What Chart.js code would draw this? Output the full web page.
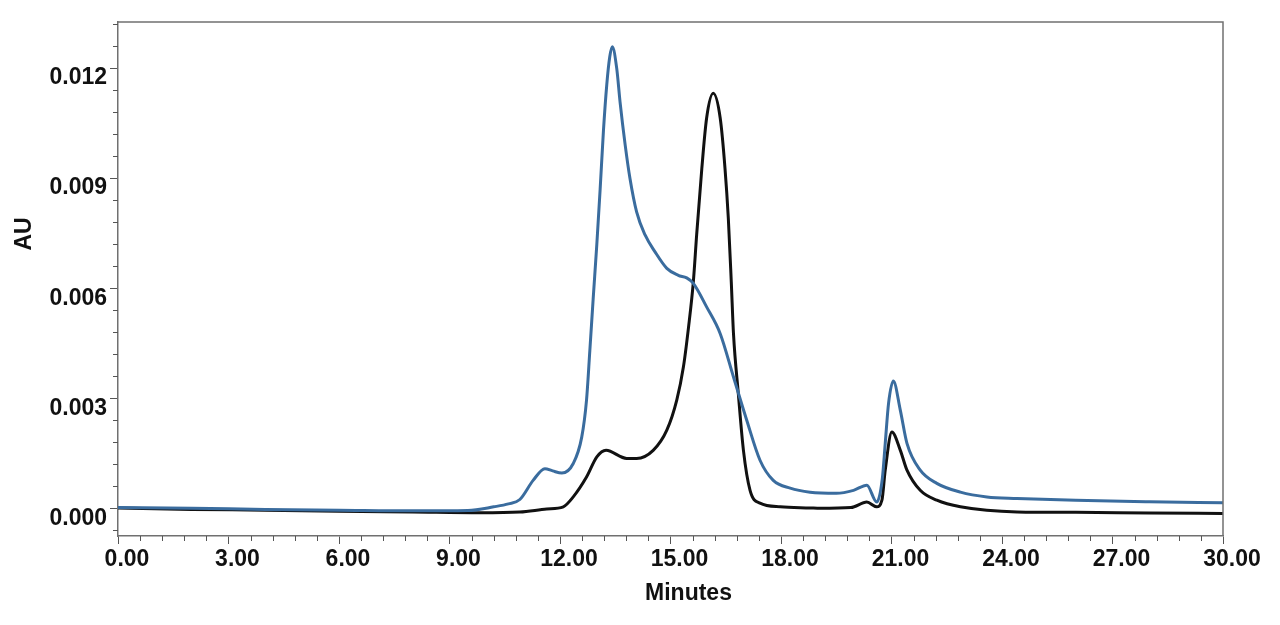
<!DOCTYPE html>
<html lang="en">

<head>
  <meta charset="UTF-8" />
  <title>Chromatogram</title>
  <script src="https://cdn.jsdelivr.net/npm/chart.js"></script>
  <style>
    body {
      margin: 0;
      background: #fff;
    }

    #wrap {
      width: 1280px;
      height: 625px;
    }
  </style>
</head>

<body>
  <div id="wrap"><canvas id="chart"></canvas></div>

  <script>
    // retention time (min) / absorbance (AU)
    const blueTime = [0, 2, 4, 6, 8, 9.5, 10.2, 10.6, 10.91, 11.27, 11.59, 11.8, 12.05, 12.36, 12.59, 12.72, 12.81,
      12.9, 13.0, 13.09, 13.18, 13.27, 13.35, 13.42, 13.54, 13.63, 13.77, 13.9, 14.08, 14.31, 14.58, 14.9, 15.21,
      15.44, 15.62, 15.98, 16.35, 16.71, 17.07, 17.43, 17.79, 18.25, 18.79, 19.5, 19.97, 20.33, 20.6, 20.75, 20.83,
      20.92, 21.05, 21.24, 21.42, 21.78, 22.23, 22.87, 23.59, 24.41, 26, 28, 30];
    const blueAU = [0.00002, 0.0, -0.00003, -0.00005, -0.00007, -0.00006, 0.00004, 0.00012, 0.00024, 0.00076, 0.00108,
      0.00102, 0.00096, 0.00122, 0.00194, 0.00295, 0.0043, 0.0057, 0.0072, 0.0087, 0.0103, 0.01155, 0.0123, 0.01258,
      0.01199, 0.01108, 0.0099, 0.00899, 0.00808, 0.00745, 0.00699, 0.00654, 0.00635, 0.00628, 0.00613, 0.00549,
      0.00476, 0.00358, 0.0024, 0.00131, 0.00076, 0.00055, 0.00044, 0.00041, 0.00049, 0.00063, 0.00017, 0.0008,
      0.00177, 0.00286, 0.00347, 0.00267, 0.00177, 0.00104, 0.00068, 0.00044, 0.00031, 0.00027, 0.00022, 0.00018,
      0.00015];

    const blackTime = [0, 2, 4, 6, 8, 9.83, 10.91, 11.64, 12.09, 12.36, 12.72, 13.0, 13.25, 13.81, 14.08, 14.53, 14.9,
      15.17, 15.35, 15.49, 15.62, 15.71, 15.85, 15.98, 16.16, 16.35, 16.48, 16.57, 16.65, 16.71, 16.84, 16.98, 17.16,
      17.43, 17.98, 18.79, 19.06, 19.9, 20.33, 20.6, 20.74, 20.83, 21.01, 21.24, 21.42, 21.78, 22.23, 22.87, 24.41,
      26, 28, 30];
    const blackAU = [0.00001, -0.00003, -0.00005, -0.00008, -0.0001, -0.00012, -0.0001, -0.00002, 0.00004, 0.00031,
      0.00085, 0.0014, 0.00158, 0.00136, 0.00136, 0.00158, 0.00213, 0.00295, 0.00385, 0.00494, 0.00617, 0.00745,
      0.00926, 0.01063, 0.01131, 0.01063, 0.00926, 0.0079, 0.00617, 0.00476, 0.00314, 0.00158, 0.00049, 0.00014,
      0.00004, 0.00001, 0.0, 0.00002, 0.00017, 0.00004, 0.00022, 0.00104, 0.00208, 0.00158, 0.00104, 0.00049,
      0.00022, 0.00004, -0.0001, -0.00011, -0.00013, -0.00014];

    const xTicks = [0, 3, 6, 9, 12, 15, 18, 21, 24, 27, 30];
    const yTicks = [0, 0.003, 0.006, 0.009, 0.012];

    const FONT = { family: "'Liberation Sans', Arial, sans-serif", size: 23, weight: 'bold' };
    const AXIS_GREY = '#707070';

    // frame, minor ticks and axis titles
    const decorations = {
      id: 'decorations',
      afterDraw(chart) {
        const { ctx, chartArea: a, scales: { x, y } } = chart;
        ctx.save();
        ctx.strokeStyle = AXIS_GREY;
        ctx.lineWidth = 1.5;
        ctx.beginPath();
        ctx.moveTo(a.left, a.top);
        ctx.lineTo(a.right, a.top);
        ctx.lineTo(a.right, a.bottom);
        ctx.stroke();

        ctx.strokeStyle = '#555';
        ctx.lineWidth = 1;
        ctx.beginPath();
        for (let i = 0; i <= 50; i++) {
          if (i % 5 === 0) continue;
          const px = Math.round(x.getPixelForValue(i * 0.6)) + 0.5;
          ctx.moveTo(px, a.bottom);
          ctx.lineTo(px, a.bottom + 5);
        }
        for (let i = -1; i <= 22; i++) {
          if (i % 5 === 0) continue;
          const py = Math.round(y.getPixelForValue(i * 0.0006)) + 0.5;
          if (py < a.top - 1 || py > a.bottom + 1) continue;
          ctx.moveTo(a.left, py);
          ctx.lineTo(a.left - 5, py);
        }
        ctx.stroke();

        ctx.fillStyle = '#111';
        ctx.font = `bold ${FONT.size}px ${FONT.family}`;
        ctx.textAlign = 'center';
        ctx.textBaseline = 'middle';
        ctx.fillText('Minutes', (a.left + a.right) / 2 + 18, 594);
        ctx.translate(25, 234);
        ctx.rotate(-Math.PI / 2);
        ctx.fillText('AU', 0, 0);
        ctx.restore();
      }
    };

    new Chart(document.getElementById('chart'), {
      type: 'line',
      data: {
        datasets: [{
          label: 'Sample A',
          data: blueTime.map((t, i) => ({ x: t, y: blueAU[i] })),
          borderColor: '#3a6c9e',
          borderWidth: 3,
          pointRadius: 0,
          cubicInterpolationMode: 'monotone'
        }, {
          label: 'Sample B',
          data: blackTime.map((t, i) => ({ x: t, y: blackAU[i] })),
          borderColor: '#111111',
          borderWidth: 3,
          pointRadius: 0,
          cubicInterpolationMode: 'monotone'
        }]
      },
      options: {
        responsive: true,
        maintainAspectRatio: false,
        animation: false,
        layout: { padding: { top: 22, right: 57, left: 0, bottom: 0 } },
        plugins: { legend: { display: false }, tooltip: { enabled: false } },
        scales: {
          x: {
            type: 'linear',
            min: 0,
            max: 30,
            afterFit: (s) => { s.height = 89; },
            afterBuildTicks: (s) => { s.ticks = xTicks.map(v => ({ value: v })); },
            border: { color: AXIS_GREY, width: 1.5 },
            grid: { drawOnChartArea: false, tickLength: 8, tickColor: '#555' },
            ticks: {
              color: '#111',
              font: FONT,
              padding: 2,
              labelOffset: 9,
              maxRotation: 0,
              autoSkip: false,
              callback: (v) => v.toFixed(2)
            }
          },
          y: {
            min: -0.000755,
            max: 0.013255,
            afterFit: (s) => { s.width = 118; },
            afterBuildTicks: (s) => { s.ticks = yTicks.map(v => ({ value: v })); },
            border: { color: AXIS_GREY, width: 1.5 },
            grid: { drawOnChartArea: false, tickLength: 8, tickColor: '#555' },
            ticks: {
              color: '#111',
              font: FONT,
              padding: 3,
              labelOffset: 10,
              autoSkip: false,
              callback: (v) => v.toFixed(3)
            }
          }
        }
      },
      plugins: [decorations]
    });
  </script>
</body>

</html>
